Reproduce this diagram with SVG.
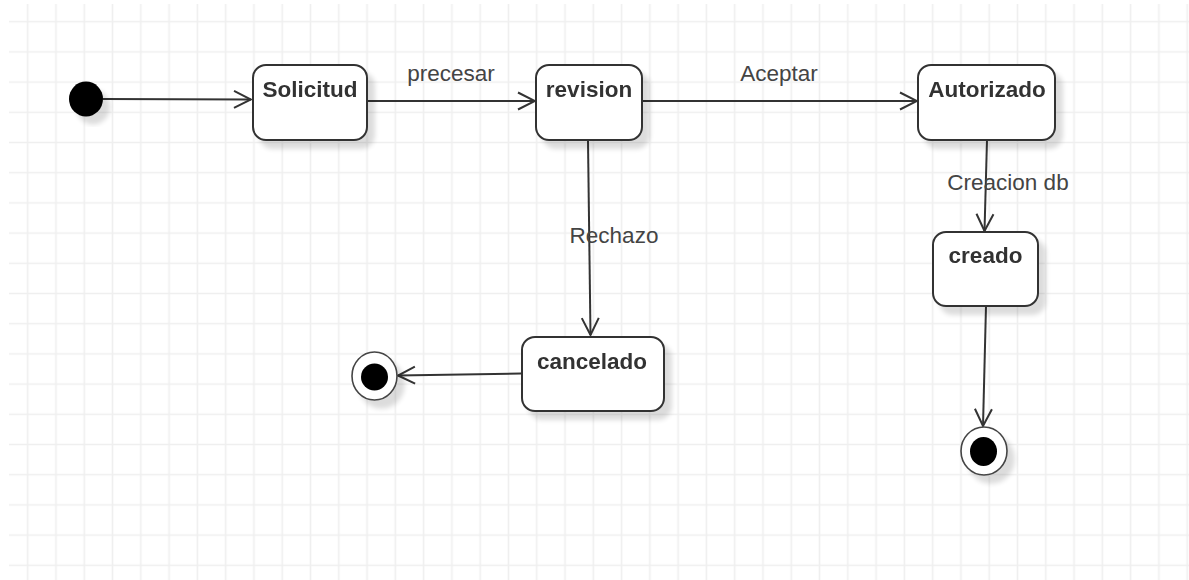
<svg xmlns="http://www.w3.org/2000/svg" width="1189" height="580" viewBox="0 0 1189 580">
  <style>
    .state { fill: #ffffff; stroke: #333333; stroke-width: 2; }
    .state-label { font-family: "Liberation Sans", Arial, sans-serif; font-size: 22.5px; font-weight: bold; fill: #333333; text-anchor: middle; }
    .edge { fill: none; stroke: #333333; stroke-width: 2; }
    .edge-label { font-family: "Liberation Sans", Arial, sans-serif; font-size: 22.5px; fill: #444444; text-anchor: middle; }
    .final-ring { fill: #ffffff; stroke: #444444; stroke-width: 1.6; }
  </style>
  <defs>
    <pattern id="grid" patternUnits="userSpaceOnUse" x="13.56" y="6.6" width="28.28" height="30.2">
      <path d="M14.14 0 V30.2 M0 15.1 H28.28" stroke="#efefef" stroke-width="1.6" fill="none"/>
    </pattern>
    <filter id="shadow" x="-20%" y="-20%" width="150%" height="150%">
      <feGaussianBlur in="SourceAlpha" stdDeviation="2.5"/>
      <feOffset dx="7" dy="8" result="blur"/>
      <feComponentTransfer><feFuncA type="linear" slope="0.14"/></feComponentTransfer>
      <feMerge><feMergeNode/><feMergeNode in="SourceGraphic"/></feMerge>
    </filter>
    <marker id="open-arrow" viewBox="0 0 20 20" refX="18" refY="10" markerWidth="20" markerHeight="20" markerUnits="userSpaceOnUse" orient="auto">
      <path d="M1 1.5 L18 10 L1 18.5" fill="none" stroke="#333333" stroke-width="2"/>
    </marker>
  </defs>

  <!-- background grid -->
  <rect width="1189" height="580" fill="#ffffff"/>
  <rect x="9" y="4" width="1180" height="576" fill="url(#grid)"/>

  <!-- transitions -->
  <g id="connectors">
    <path class="edge" d="M103 99 L251 99.5" marker-end="url(#open-arrow)"/>
    <path class="edge" d="M367 101 L535 101" marker-end="url(#open-arrow)"/>
    <path class="edge" d="M642 101 L917 101" marker-end="url(#open-arrow)"/>
    <path class="edge" d="M588 141 L590.5 335" marker-end="url(#open-arrow)"/>
    <path class="edge" d="M987 140 L984.5 231" marker-end="url(#open-arrow)"/>
    <path class="edge" d="M986 306 L983 426" marker-end="url(#open-arrow)"/>
    <path class="edge" d="M521 373.5 L398 375.5" marker-end="url(#open-arrow)"/>
    <text class="edge-label" x="451" y="81">precesar</text>
    <text class="edge-label" x="779" y="81">Aceptar</text>
    <text class="edge-label" x="614" y="243">Rechazo</text>
    <text class="edge-label" x="1008" y="190">Creacion db</text>
  </g>

  <!-- initial pseudo-state -->
  <g id="initial" filter="url(#shadow)">
    <ellipse cx="86" cy="99" rx="17" ry="17.5" fill="#000000"/>
  </g>

  <g id="solicitud" filter="url(#shadow)">
    <rect class="state" x="253" y="65" width="114" height="75" rx="13"/>
    <text class="state-label" x="310" y="97">Solicitud</text>
  </g>

  <g id="revision" filter="url(#shadow)">
    <rect class="state" x="536" y="65" width="106" height="75" rx="13"/>
    <text class="state-label" x="589" y="97">revision</text>
  </g>

  <g id="autorizado" filter="url(#shadow)">
    <rect class="state" x="918" y="65" width="137" height="75" rx="13"/>
    <text class="state-label" x="987" y="97">Autorizado</text>
  </g>

  <g id="creado" filter="url(#shadow)">
    <rect class="state" x="933" y="232" width="105" height="74" rx="13"/>
    <text class="state-label" x="985.5" y="263">creado</text>
  </g>

  <g id="cancelado" filter="url(#shadow)">
    <rect class="state" x="522" y="337" width="142" height="74" rx="13"/>
    <text class="state-label" x="592" y="369">cancelado</text>
  </g>

  <!-- final pseudo-states -->
  <g id="final-cancelado" filter="url(#shadow)">
    <ellipse class="final-ring" cx="374.5" cy="376" rx="22.5" ry="24"/>
    <ellipse cx="374.5" cy="377" rx="13.5" ry="13.5" fill="#000000"/>
  </g>

  <g id="final-creado" filter="url(#shadow)">
    <ellipse class="final-ring" cx="984" cy="451" rx="23" ry="24"/>
    <ellipse cx="983.5" cy="451.5" rx="13.5" ry="14.5" fill="#000000"/>
  </g>
</svg>
